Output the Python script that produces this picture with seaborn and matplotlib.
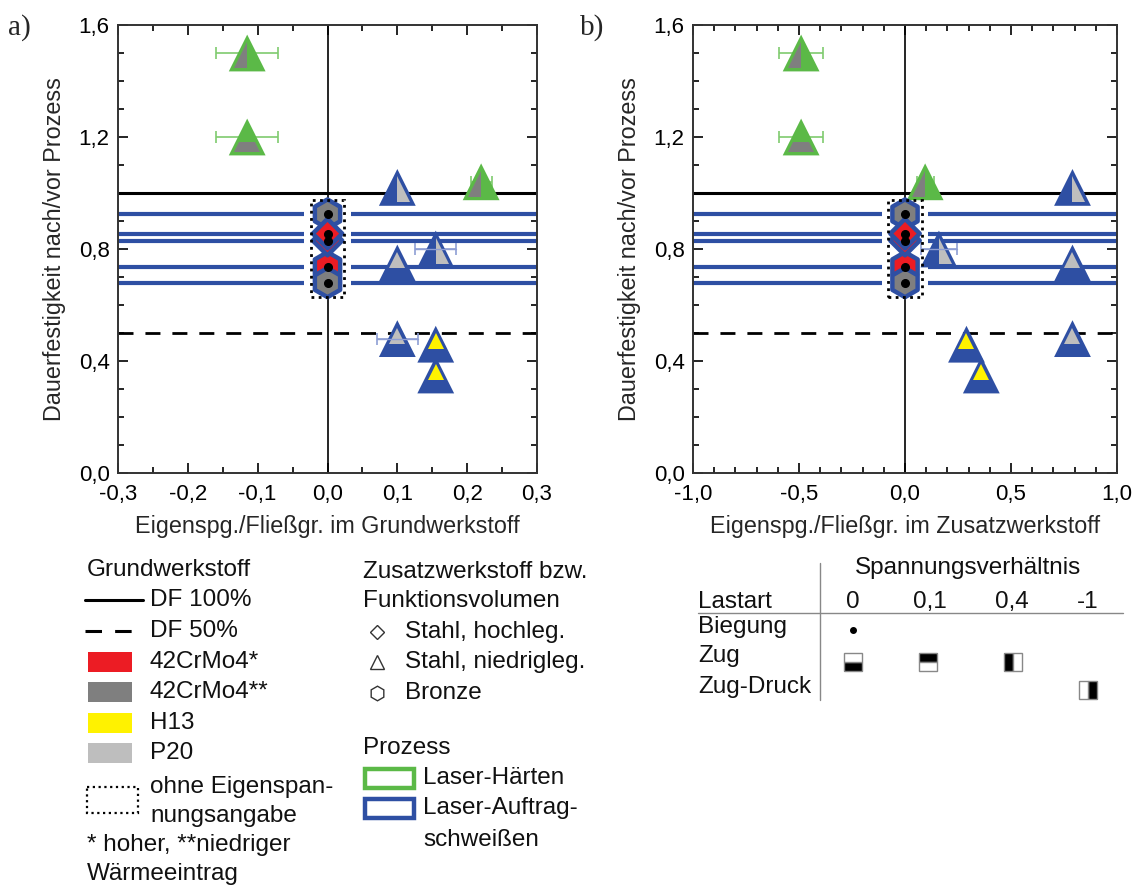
import numpy as np
import pandas as pd
import matplotlib
matplotlib.use("Agg")
import matplotlib.pyplot as plt
import seaborn as sns
from matplotlib.ticker import MultipleLocator, FuncFormatter
from matplotlib.patches import Rectangle
import matplotlib.transforms as mtransforms

# ---------------- data ----------------
# Stahl, niedriglegiert (triangles)
tri_x_grund = [-0.115, -0.115, 0.22, 0.10, 0.155, 0.10, 0.10, 0.155, 0.155]
tri_x_zusatz = [-0.49, -0.49, 0.095, 0.79, 0.16, 0.79, 0.79, 0.29, 0.36]
tri_y = [1.50, 1.20, 1.04, 1.02, 0.80, 0.75, 0.48, 0.46, 0.35]
tri_process = ["Laser-Härten", "Laser-Härten", "Laser-Härten", "Laser-Auftragschweißen",
               "Laser-Auftragschweißen", "Laser-Auftragschweißen", "Laser-Auftragschweißen",
               "Laser-Auftragschweißen", "Laser-Auftragschweißen"]
tri_material = ["42CrMo4**", "42CrMo4**", "42CrMo4**", "P20", "P20", "P20", "P20", "H13", "H13"]
tri_load = ["Zug R=0,4", "Zug R=0", "Zug R=0,4", "Zug-Druck R=-1", "Zug-Druck R=-1",
            "Zug R=0,1", "Zug R=0,1", "Zug R=0,1", "Zug R=0,1"]
tri_xerr_grund = [0.044, 0.044, 0.015, 0.0, 0.029, 0.0, 0.029, 0.0, 0.0]
tri_xerr_zusatz = [0.105, 0.105, 0.04, 0.0, 0.085, 0.0, 0.0, 0.0, 0.0]

# results without residual stress data (drawn at x = 0 and as horizontal lines)
ohne_y = [0.925, 0.737, 0.68, 0.83, 0.855]
ohne_shape = ["Bronze", "Bronze", "Bronze", "Stahl, hochleg.", "Stahl, hochleg."]
ohne_material = ["42CrMo4**", "42CrMo4*", "42CrMo4**", "42CrMo4*", "42CrMo4*"]

df100 = 1.0
df50 = 0.5

# ---------------- styles ----------------
proc_colors = {"Laser-Härten": "#5BB947", "Laser-Auftragschweißen": "#2E4FA3"}
err_colors = {"Laser-Härten": "#7FCB6E", "Laser-Auftragschweißen": "#8E9ED4"}
mat_colors = {"42CrMo4*": "#EC1C24", "42CrMo4**": "#7F7F7F", "H13": "#FFF200", "P20": "#BEBEBE"}
load_fill = {"Zug R=0": "bottom", "Zug R=0,1": "top", "Zug R=0,4": "left",
             "Zug-Druck R=-1": "right", "Biegung": "full"}
shape_marker = {"Bronze": "h", "Stahl, hochleg.": "D"}
shape_size = {"Bronze": 21 ** 2, "Stahl, hochleg.": 15 ** 2}
BLUE = proc_colors["Laser-Auftragschweißen"]

sns.set_theme(style="ticks")
plt.rcParams["font.family"] = ["Liberation Sans", "DejaVu Sans"]
plt.rcParams["axes.linewidth"] = 1.4

fig = plt.figure(figsize=(11.32, 8.88), dpi=100)
W, H = 1132, 888
ax_a = fig.add_axes([118 / W, 1 - 473 / H, (537 - 118) / W, (473 - 25) / H])
ax_b = fig.add_axes([693 / W, 1 - 473 / H, (1117 - 693) / W, (473 - 25) / H])

TICK_FS = 16
LABEL_FS = 16.8


def fmt(v, p):
    if abs(v) < 1e-9:
        v = 0.0
    return f"{v:.1f}".replace(".", ",")


def draw_panel(ax, tri_x, tri_xerr, xlim, xmajor, xminor, xlabel, box_half):
    ax.set_xlim(*xlim)
    ax.set_ylim(0, 1.6)
    span = xlim[1] - xlim[0]
    gap = 0.055 * span
    # horizontal lines for results without residual stress data
    for yv in ohne_y:
        ax.plot([xlim[0], -gap], [yv, yv], color=BLUE, lw=3, zorder=1.5, solid_capstyle="butt")
        ax.plot([gap, xlim[1]], [yv, yv], color=BLUE, lw=3, zorder=1.5, solid_capstyle="butt")
    ax.axhline(df100, color="black", lw=2.2, zorder=1.6)
    ax.axhline(df50, color="black", lw=2.0, dashes=(5.4, 4.3), zorder=1.6)
    ax.axvline(0, color="black", lw=1.2, zorder=1.4)

    # triangles: outer (process colour)
    dtri = pd.DataFrame({"x": tri_x, "y": tri_y, "Prozess": tri_process,
                         "Werkstoff": tri_material, "Last": tri_load, "xerr": tri_xerr})
    for i, r in dtri.iterrows():
        if r["xerr"] > 0:
            ax.errorbar(r["x"], r["y"], xerr=r["xerr"], fmt="none",
                        ecolor=err_colors[r["Prozess"]], elinewidth=1.2, capsize=4,
                        capthick=1.2, zorder=2.5)
    sns.scatterplot(data=dtri, x="x", y="y", hue="Prozess", palette=proc_colors,
                    marker="^", s=26.5 ** 2, linewidth=0, legend=False, ax=ax, zorder=3)
    off = mtransforms.ScaledTranslation(0, -1.4 / 72, fig.dpi_scale_trans)
    for i, r in dtri.iterrows():
        ax.plot(r["x"], r["y"], marker="^", ms=19, fillstyle=load_fill[r["Last"]],
                markerfacecolor=mat_colors[r["Werkstoff"]], markerfacecoloralt="none",
                markeredgewidth=0, ls="none", zorder=4, transform=ax.transData + off)
        if r["xerr"] > 0 and r["Prozess"] == "Laser-Auftragschweißen":
            ax.plot([r["x"] - r["xerr"], r["x"] + r["xerr"]], [r["y"], r["y"]],
                    color=err_colors[r["Prozess"]], lw=1.0, zorder=4.5)

    # results without residual stress at x = 0
    dohne = pd.DataFrame({"x": [0.0] * len(ohne_y), "y": ohne_y, "Form": ohne_shape,
                          "Werkstoff": ohne_material})
    sns.scatterplot(data=dohne, x="x", y="y", hue="Werkstoff", palette=mat_colors,
                    style="Form", markers=shape_marker, size="Form", sizes=shape_size,
                    edgecolor=BLUE, linewidth=3.2, legend=False, ax=ax, zorder=5)
    ax.plot(dohne["x"], dohne["y"], "o", color="black", ms=5.5, zorder=6)
    ax.add_patch(Rectangle((-box_half, 0.63), 2 * box_half, 0.345, fill=False,
                           edgecolor="black", lw=2.0, ls=(0, (1, 1.6)), zorder=7))

    ax.xaxis.set_major_locator(MultipleLocator(xmajor))
    ax.xaxis.set_minor_locator(MultipleLocator(xminor))
    ax.yaxis.set_major_locator(MultipleLocator(0.4))
    ax.yaxis.set_minor_locator(MultipleLocator(0.1))
    ax.xaxis.set_major_formatter(FuncFormatter(fmt))
    ax.yaxis.set_major_formatter(FuncFormatter(fmt))
    ax.tick_params(which="both", direction="in", top=True, right=True, width=1.2,
                   colors="black", labelsize=TICK_FS)
    ax.tick_params(which="major", length=7)
    ax.tick_params(axis="x", which="major", pad=8)
    ax.tick_params(axis="y", which="major", pad=6)
    ax.tick_params(which="minor", length=4)
    ax.set_xlabel(xlabel, fontsize=LABEL_FS)
    ax.set_ylabel("Dauerfestigkeit nach/vor Prozess", fontsize=LABEL_FS)
    ax.xaxis.set_label_coords(0.5, -0.094)
    ax.yaxis.set_label_coords(-0.123, 0.5)
    for s in ax.spines.values():
        s.set_color("#333333")


draw_panel(ax_a, tri_x_grund, tri_xerr_grund, (-0.3, 0.3), 0.1, 0.05,
           "Eigenspg./Fließgr. im Grundwerkstoff", 0.024)
draw_panel(ax_b, tri_x_zusatz, tri_xerr_zusatz, (-1.0, 1.0), 0.5, 0.1,
           "Eigenspg./Fließgr. im Zusatzwerkstoff", 0.082)

fig.text(8 / W, 1 - 28 / H, "a)", family="Liberation Serif", fontsize=21, va="center", ha="left")
fig.text(580 / W, 1 - 28 / H, "b)", family="Liberation Serif", fontsize=21, va="center", ha="left")

# ---------------- legends (overlay axes in pixel coordinates) ----------------
lg = fig.add_axes([0, 0, 1, 1])
lg.set_xlim(0, W)
lg.set_ylim(H, 0)
lg.axis("off")
FS = 17.5


def t(x, y, s, ha="left"):
    lg.text(x, y, s, fontsize=FS, ha=ha, va="center", color="#111111")


# column 1: Grundwerkstoff
t(87, 570, "Grundwerkstoff")
lg.plot([85, 143], [600, 600], color="black", lw=2.2)
t(150, 600, "DF 100%")
lg.plot([85, 143], [631, 631], color="black", lw=2.2, dashes=(5.4, 4.3))
t(150, 631, "DF 50%")
leg_mats = ["42CrMo4*", "42CrMo4**", "H13", "P20"]
leg_mat_y = [662, 692, 723, 753]
for m, yy in zip(leg_mats, leg_mat_y):
    lg.add_patch(Rectangle((88, yy - 10), 44, 20, facecolor=mat_colors[m], edgecolor="none"))
    t(150, yy, m)
lg.add_patch(Rectangle((87, 787), 51, 26, fill=False, edgecolor="black", lw=1.6,
                       ls=(0, (1, 1.6))))
t(150, 787, "ohne Eigenspan-")
t(150, 816, "nungsangabe")
t(87, 845, "* hoher, **niedriger")
t(87, 874, "Wärmeeintrag")

# column 2: Zusatzwerkstoff / Prozess
t(363, 572, "Zusatzwerkstoff bzw.")
t(363, 601, "Funktionsvolumen")
leg_shapes = ["Stahl, hochleg.", "Stahl, niedrigleg.", "Bronze"]
leg_shape_markers = ["D", "^", "h"]
leg_shape_ms = [7.5, 10.5, 10.5]
leg_shape_y = [632, 662, 693]
for s_, mk, ms_, yy in zip(leg_shapes, leg_shape_markers, leg_shape_ms, leg_shape_y):
    lg.plot(377, yy, marker=mk, ms=ms_, mfc="white", mec="#333333", mew=1.0, ls="none")
    t(405, yy, s_)
t(363, 748, "Prozess")
leg_proc = ["Laser-Härten", "Laser-Auftragschweißen"]
leg_proc_y = [778, 808]
for p_, yy in zip(leg_proc, leg_proc_y):
    lg.add_patch(Rectangle((365, yy - 9.5), 49, 19, fill=False,
                           edgecolor=proc_colors[p_], lw=3.2))
t(423, 778, "Laser-Härten")
t(423, 808, "Laser-Auftrag-")
t(423, 840, "schweißen")

# column 3: load type table
lg.plot([820, 820], [563, 700], color="#888888", lw=1.0)
lg.plot([698, 1123], [613, 613], color="#888888", lw=1.0)
t(968, 568, "Spannungsverhältnis", ha="center")
t(698, 602, "Lastart")
ratio_labels = ["0", "0,1", "0,4", "-1"]
ratio_x = [853, 930, 1012, 1088]
for r_, xx in zip(ratio_labels, ratio_x):
    t(xx, 602, r_, ha="center")
t(698, 627, "Biegung")
t(698, 656, "Zug")
t(698, 687, "Zug-Druck")
lg.plot(853, 630, "o", color="black", ms=4)
icon_x = [853, 928, 1013, 1088]
icon_y = [662, 662, 662, 690]
icon_fill = ["bottom", "top", "left", "right"]
for xx, yy, fs in zip(icon_x, icon_y, icon_fill):
    lg.plot(xx, yy, marker="s", ms=12.5, fillstyle=fs, mfc="black", mfcalt="white",
            mec="#888888", mew=1.0, ls="none")

fig.savefig("out.png", dpi=100)
